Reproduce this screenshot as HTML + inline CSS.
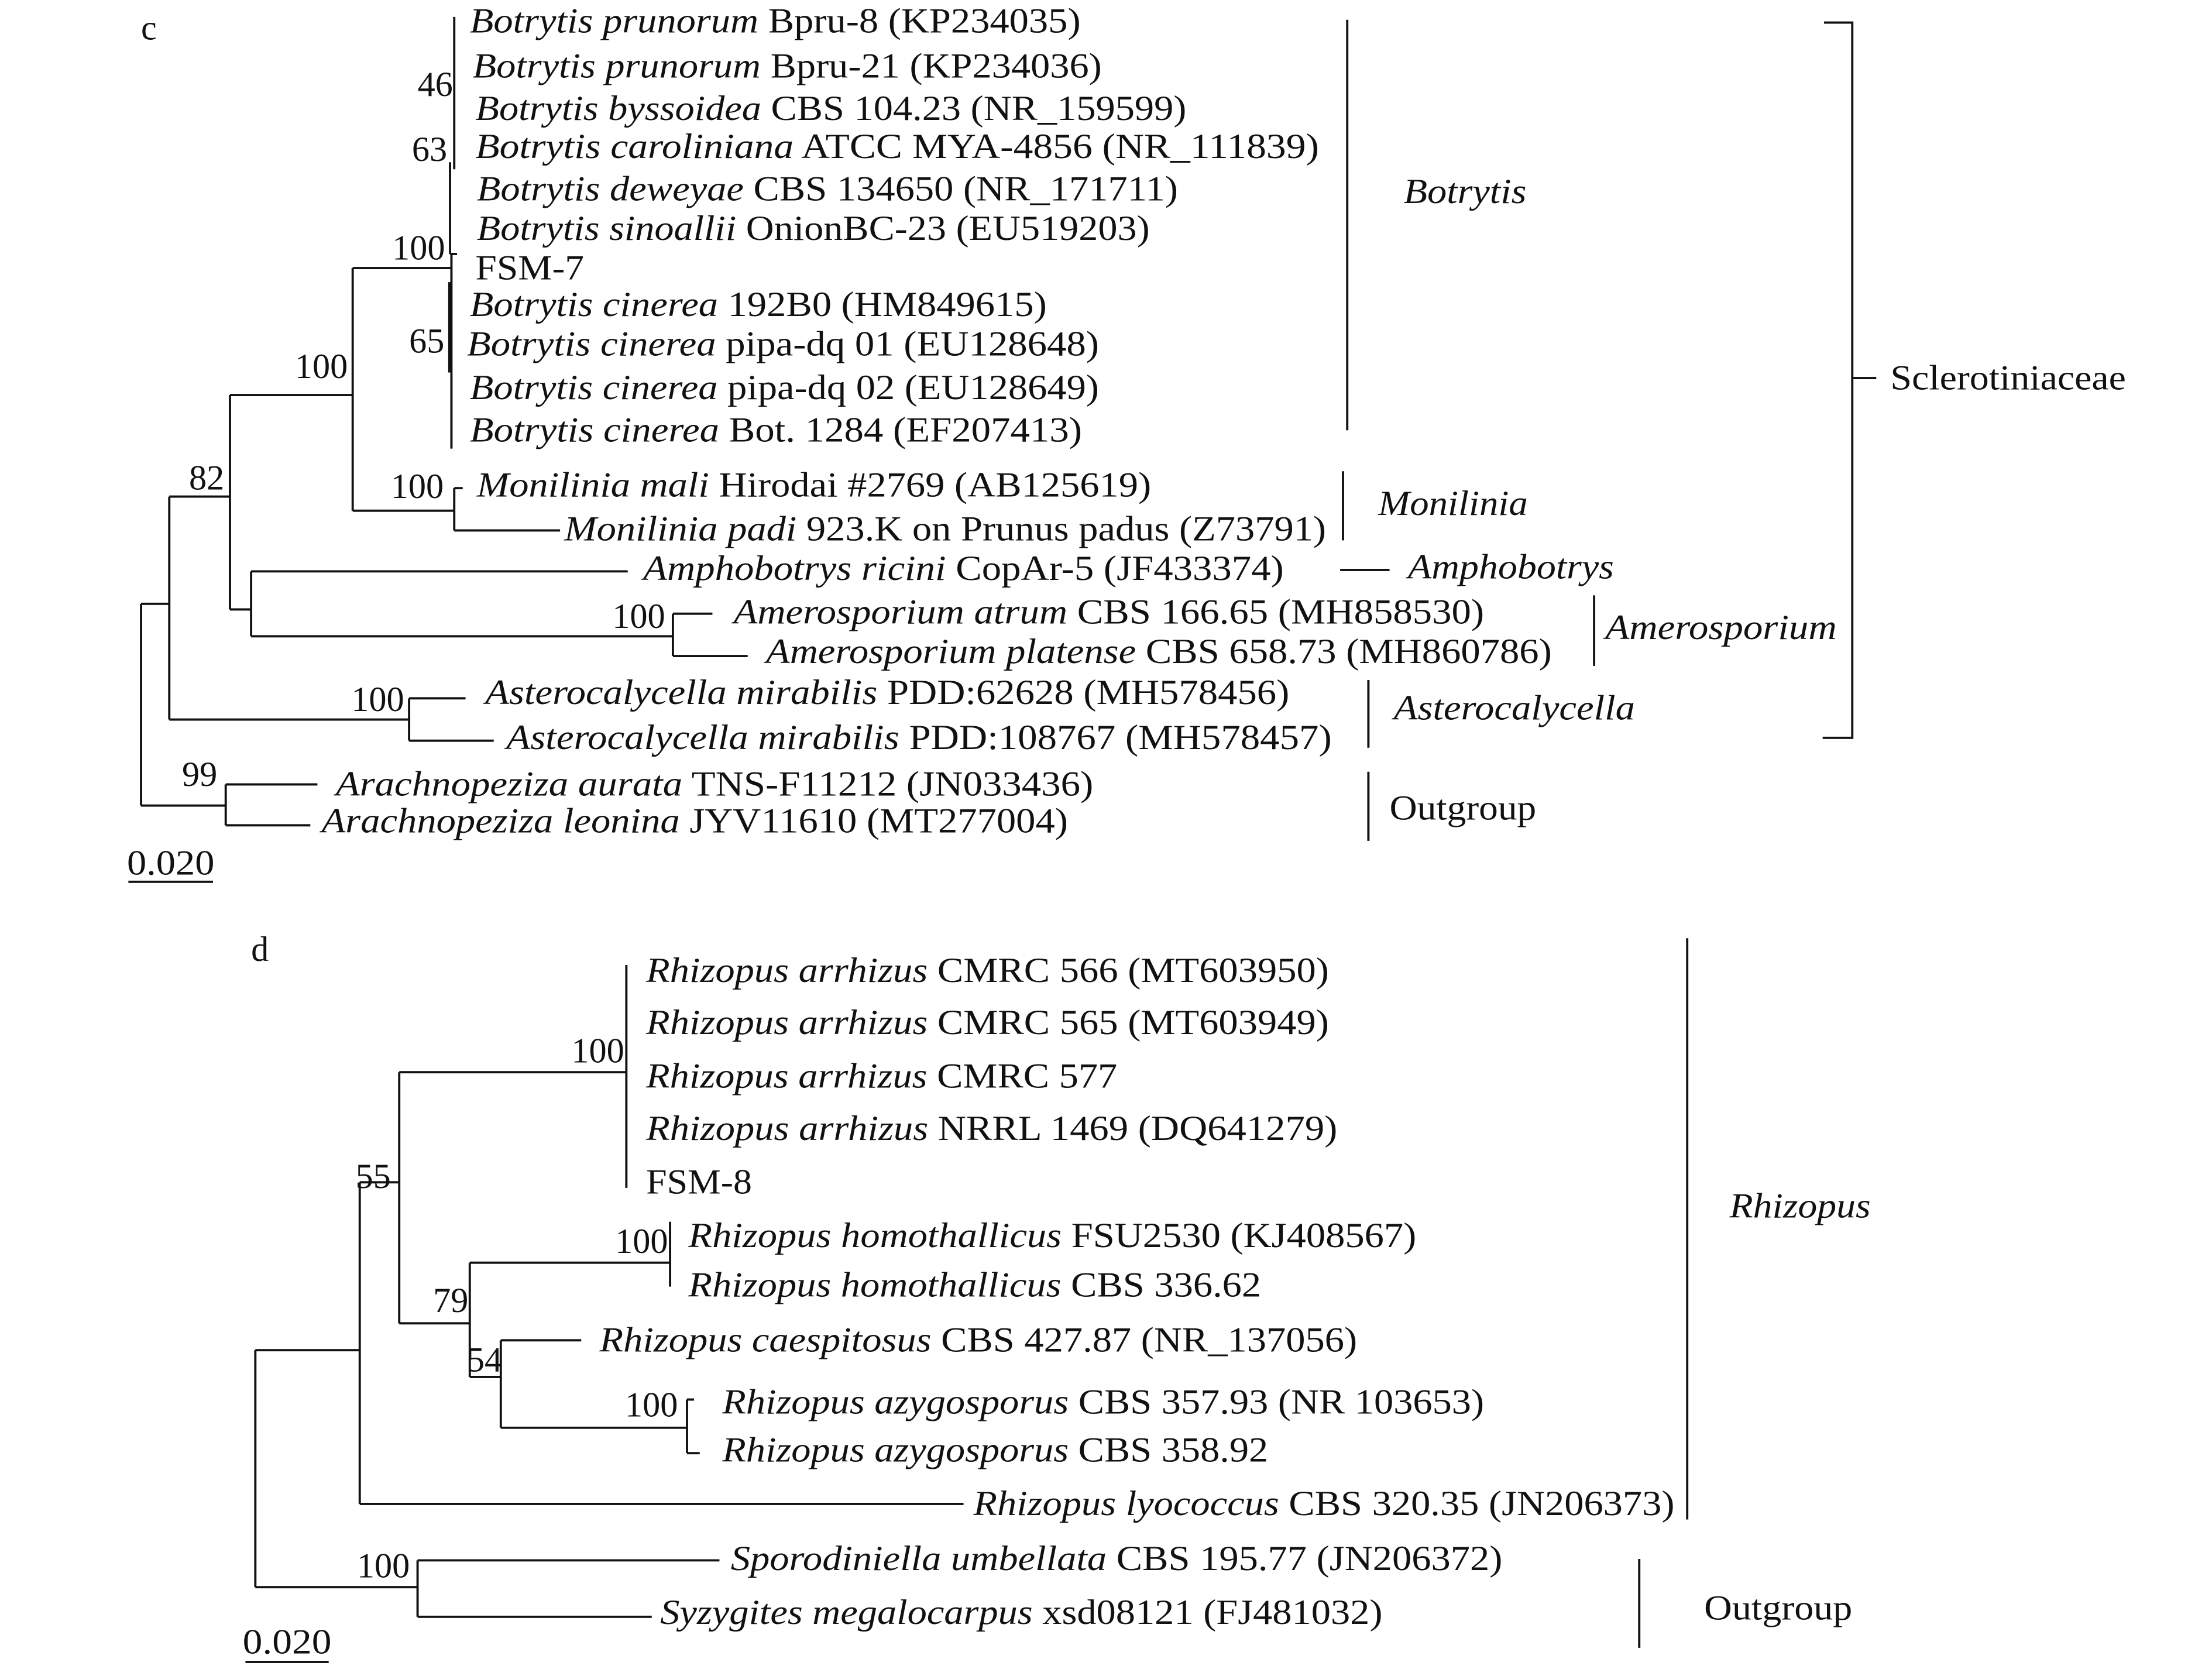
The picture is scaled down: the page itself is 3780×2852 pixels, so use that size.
<!DOCTYPE html>
<html><head><meta charset="utf-8"><style>
html,body{margin:0;padding:0;background:#fff;}
svg{display:block;}
text{font-family:"Liberation Serif",serif;font-size:25px;fill:#111;}
.i{font-style:italic;}
line,polyline{stroke:#111;stroke-width:1.6;fill:none;}
</style></head><body>
<svg width="3780" height="2852" viewBox="0 0 1568 1183" preserveAspectRatio="none" xmlns="http://www.w3.org/2000/svg">
<rect width="1568" height="1183" fill="#fff"/>
<!-- Panel c -->
<text x="100" y="28">c</text>
<g>
<text x="333" y="23" textLength="433" lengthAdjust="spacingAndGlyphs"><tspan class="i">Botrytis prunorum</tspan> Bpru-8 (KP234035)</text>
<text x="335" y="55" textLength="446" lengthAdjust="spacingAndGlyphs"><tspan class="i">Botrytis prunorum</tspan> Bpru-21 (KP234036)</text>
<text x="337" y="85" textLength="504" lengthAdjust="spacingAndGlyphs"><tspan class="i">Botrytis byssoidea</tspan> CBS 104.23 (NR_159599)</text>
<text x="337" y="112" textLength="598" lengthAdjust="spacingAndGlyphs"><tspan class="i">Botrytis caroliniana</tspan> ATCC MYA-4856 (NR_111839)</text>
<text x="338" y="142" textLength="497" lengthAdjust="spacingAndGlyphs"><tspan class="i">Botrytis deweyae</tspan> CBS 134650 (NR_171711)</text>
<text x="338" y="170" textLength="477" lengthAdjust="spacingAndGlyphs"><tspan class="i">Botrytis sinoallii</tspan> OnionBC-23 (EU519203)</text>
<text x="337" y="198" textLength="77" lengthAdjust="spacingAndGlyphs">FSM-7</text>
<text x="333" y="224" textLength="409" lengthAdjust="spacingAndGlyphs"><tspan class="i">Botrytis cinerea</tspan> 192B0 (HM849615)</text>
<text x="331" y="252" textLength="448" lengthAdjust="spacingAndGlyphs"><tspan class="i">Botrytis cinerea</tspan> pipa-dq 01 (EU128648)</text>
<text x="333" y="283" textLength="446" lengthAdjust="spacingAndGlyphs"><tspan class="i">Botrytis cinerea</tspan> pipa-dq 02 (EU128649)</text>
<text x="333" y="313" textLength="434" lengthAdjust="spacingAndGlyphs"><tspan class="i">Botrytis cinerea</tspan> Bot. 1284 (EF207413)</text>
<text x="338" y="352" textLength="478" lengthAdjust="spacingAndGlyphs"><tspan class="i">Monilinia mali</tspan> Hirodai #2769 (AB125619)</text>
<text x="400" y="383" textLength="540" lengthAdjust="spacingAndGlyphs"><tspan class="i">Monilinia padi</tspan> 923.K on Prunus padus (Z73791)</text>
<text x="456" y="411" textLength="454" lengthAdjust="spacingAndGlyphs"><tspan class="i">Amphobotrys ricini</tspan> CopAr-5 (JF433374)</text>
<text x="520" y="442" textLength="532" lengthAdjust="spacingAndGlyphs"><tspan class="i">Amerosporium atrum</tspan> CBS 166.65 (MH858530)</text>
<text x="543" y="470" textLength="557" lengthAdjust="spacingAndGlyphs"><tspan class="i">Amerosporium platense</tspan> CBS 658.73 (MH860786)</text>
<text x="344" y="499" textLength="570" lengthAdjust="spacingAndGlyphs"><tspan class="i">Asterocalycella mirabilis</tspan> PDD:62628 (MH578456)</text>
<text x="359" y="531" textLength="585" lengthAdjust="spacingAndGlyphs"><tspan class="i">Asterocalycella mirabilis</tspan> PDD:108767 (MH578457)</text>
<text x="238" y="564" textLength="537" lengthAdjust="spacingAndGlyphs"><tspan class="i">Arachnopeziza aurata</tspan> TNS-F11212 (JN033436)</text>
<text x="228" y="590" textLength="529" lengthAdjust="spacingAndGlyphs"><tspan class="i">Arachnopeziza leonina</tspan> JYV11610 (MT277004)</text>
</g>
<text x="296" y="68">46</text>
<text x="292" y="114">63</text>
<text x="278" y="184">100</text>
<text x="290" y="250">65</text>
<text x="209" y="268">100</text>
<text x="134" y="347">82</text>
<text x="277" y="353">100</text>
<text x="434" y="445">100</text>
<text x="249" y="504">100</text>
<text x="129" y="557">99</text>
<line x1="322" y1="12" x2="322" y2="120"/>
<line x1="319" y1="115" x2="319" y2="180"/>
<line x1="319" y1="180" x2="324" y2="180"/>
<line x1="319" y1="200" x2="319" y2="264" style="stroke-width:2.6"/>
<line x1="320" y1="180" x2="320" y2="318"/>
<line x1="250" y1="190" x2="320" y2="190"/>
<line x1="250" y1="190" x2="250" y2="362"/>
<line x1="250" y1="362" x2="322" y2="362"/>
<line x1="322" y1="346" x2="322" y2="376"/>
<line x1="322" y1="346" x2="328" y2="346"/>
<line x1="322" y1="376" x2="397" y2="376"/>
<line x1="163" y1="280" x2="250" y2="280"/>
<line x1="163" y1="280" x2="163" y2="432"/>
<line x1="163" y1="432" x2="178" y2="432"/>
<line x1="178" y1="405" x2="178" y2="451"/>
<line x1="178" y1="405" x2="445" y2="405"/>
<line x1="178" y1="451" x2="477" y2="451"/>
<line x1="477" y1="435" x2="477" y2="465"/>
<line x1="477" y1="435" x2="505" y2="435"/>
<line x1="477" y1="465" x2="530" y2="465"/>
<line x1="120" y1="352" x2="163" y2="352"/>
<line x1="120" y1="352" x2="120" y2="510"/>
<line x1="120" y1="510" x2="290" y2="510"/>
<line x1="290" y1="495" x2="290" y2="525"/>
<line x1="290" y1="495" x2="330" y2="495"/>
<line x1="290" y1="525" x2="350" y2="525"/>
<line x1="100" y1="428" x2="120" y2="428"/>
<line x1="100" y1="428" x2="100" y2="571"/>
<line x1="100" y1="571" x2="160" y2="571"/>
<line x1="160" y1="556" x2="160" y2="585"/>
<line x1="160" y1="556" x2="225" y2="556"/>
<line x1="160" y1="585" x2="220" y2="585"/>
<text x="90" y="620" textLength="62" lengthAdjust="spacingAndGlyphs">0.020</text>
<line x1="91" y1="625" x2="151" y2="625"/>
<line x1="955" y1="14" x2="955" y2="305"/>
<text x="995" y="144" class="i" textLength="87" lengthAdjust="spacingAndGlyphs">Botrytis</text>
<line x1="952" y1="334" x2="952" y2="383"/>
<text x="977" y="365" class="i" textLength="106" lengthAdjust="spacingAndGlyphs">Monilinia</text>
<line x1="950" y1="404" x2="985" y2="404"/>
<text x="998" y="410" class="i" textLength="146" lengthAdjust="spacingAndGlyphs">Amphobotrys</text>
<line x1="1130" y1="422" x2="1130" y2="472"/>
<text x="1138" y="453" class="i" textLength="164" lengthAdjust="spacingAndGlyphs">Amerosporium</text>
<line x1="970" y1="482" x2="970" y2="530"/>
<text x="988" y="510" class="i" textLength="171" lengthAdjust="spacingAndGlyphs">Asterocalycella</text>
<line x1="970" y1="547" x2="970" y2="596"/>
<text x="985" y="581" textLength="104" lengthAdjust="spacingAndGlyphs">Outgroup</text>
<polyline points="1293,16 1313,16 1313,523 1292,523"/>
<line x1="1313" y1="268" x2="1330" y2="268"/>
<text x="1340" y="276" textLength="167" lengthAdjust="spacingAndGlyphs">Sclerotiniaceae</text>
<!-- Panel d -->
<text x="178" y="681">d</text>
<text x="458" y="696" textLength="484" lengthAdjust="spacingAndGlyphs"><tspan class="i">Rhizopus arrhizus</tspan> CMRC 566 (MT603950)</text>
<text x="458" y="733" textLength="484" lengthAdjust="spacingAndGlyphs"><tspan class="i">Rhizopus arrhizus</tspan> CMRC 565 (MT603949)</text>
<text x="458" y="771" textLength="334" lengthAdjust="spacingAndGlyphs"><tspan class="i">Rhizopus arrhizus</tspan> CMRC 577</text>
<text x="458" y="808" textLength="490" lengthAdjust="spacingAndGlyphs"><tspan class="i">Rhizopus arrhizus</tspan> NRRL 1469 (DQ641279)</text>
<text x="458" y="846" textLength="75" lengthAdjust="spacingAndGlyphs">FSM-8</text>
<text x="488" y="884" textLength="516" lengthAdjust="spacingAndGlyphs"><tspan class="i">Rhizopus homothallicus</tspan> FSU2530 (KJ408567)</text>
<text x="488" y="919" textLength="406" lengthAdjust="spacingAndGlyphs"><tspan class="i">Rhizopus homothallicus</tspan> CBS 336.62</text>
<text x="425" y="958" textLength="537" lengthAdjust="spacingAndGlyphs"><tspan class="i">Rhizopus caespitosus</tspan> CBS 427.87 (NR_137056)</text>
<text x="512" y="1002" textLength="540" lengthAdjust="spacingAndGlyphs"><tspan class="i">Rhizopus azygosporus</tspan> CBS 357.93 (NR 103653)</text>
<text x="512" y="1036" textLength="387" lengthAdjust="spacingAndGlyphs"><tspan class="i">Rhizopus azygosporus</tspan> CBS 358.92</text>
<text x="690" y="1074" textLength="497" lengthAdjust="spacingAndGlyphs"><tspan class="i">Rhizopus lyococcus</tspan> CBS 320.35 (JN206373)</text>
<text x="518" y="1113" textLength="547" lengthAdjust="spacingAndGlyphs"><tspan class="i">Sporodiniella umbellata</tspan> CBS 195.77 (JN206372)</text>
<text x="468" y="1151" textLength="512" lengthAdjust="spacingAndGlyphs"><tspan class="i">Syzygites megalocarpus</tspan> xsd08121 (FJ481032)</text>
<text x="405" y="753">100</text>
<text x="252" y="842">55</text>
<text x="436" y="888">100</text>
<text x="307" y="930">79</text>
<text x="331" y="972">54</text>
<text x="443" y="1004">100</text>
<text x="253" y="1118">100</text>
<line x1="444" y1="684" x2="444" y2="842"/>
<line x1="283" y1="760" x2="444" y2="760"/>
<line x1="283" y1="760" x2="283" y2="938"/>
<line x1="283" y1="938" x2="333" y2="938"/>
<line x1="333" y1="895" x2="333" y2="976"/>
<line x1="333" y1="895" x2="475" y2="895"/>
<line x1="475" y1="866" x2="475" y2="912"/>
<line x1="333" y1="976" x2="355" y2="976"/>
<line x1="355" y1="950" x2="355" y2="1012"/>
<line x1="355" y1="950" x2="412" y2="950"/>
<line x1="355" y1="1012" x2="487" y2="1012"/>
<line x1="487" y1="992" x2="487" y2="1030"/>
<line x1="487" y1="992" x2="492" y2="992"/>
<line x1="487" y1="1030" x2="496" y2="1030"/>
<line x1="255" y1="838" x2="283" y2="838"/>
<line x1="255" y1="838" x2="255" y2="1066"/>
<line x1="255" y1="1066" x2="683" y2="1066"/>
<line x1="181" y1="957" x2="255" y2="957"/>
<line x1="181" y1="957" x2="181" y2="1125"/>
<line x1="181" y1="1125" x2="296" y2="1125"/>
<line x1="296" y1="1106" x2="296" y2="1146"/>
<line x1="296" y1="1106" x2="510" y2="1106"/>
<line x1="296" y1="1146" x2="462" y2="1146"/>
<text x="172" y="1172" textLength="63" lengthAdjust="spacingAndGlyphs">0.020</text>
<line x1="174" y1="1178" x2="233" y2="1178"/>
<line x1="1196" y1="665" x2="1196" y2="1077"/>
<text x="1226" y="863" class="i" textLength="100" lengthAdjust="spacingAndGlyphs">Rhizopus</text>
<line x1="1162" y1="1105" x2="1162" y2="1168"/>
<text x="1208" y="1148" textLength="105" lengthAdjust="spacingAndGlyphs">Outgroup</text>
</svg>
</body></html>
